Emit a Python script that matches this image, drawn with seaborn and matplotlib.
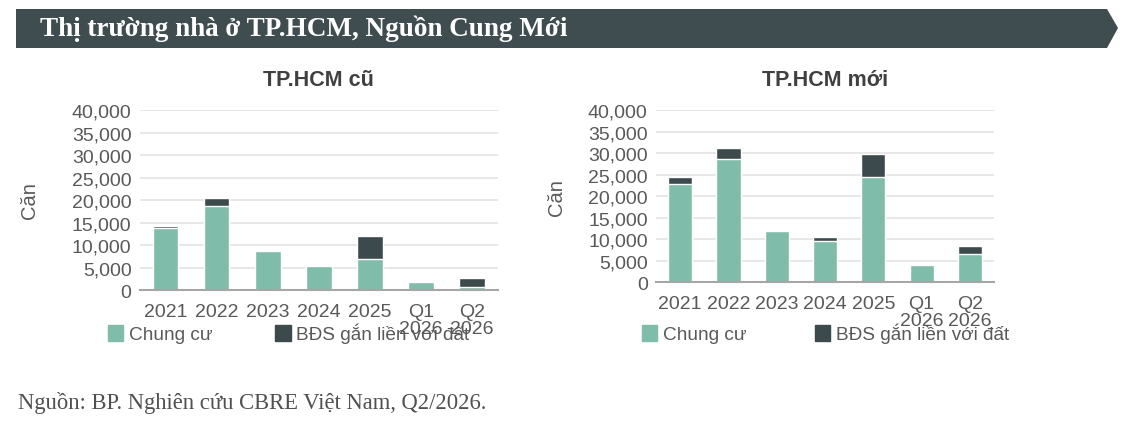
import matplotlib
matplotlib.use("Agg")
import matplotlib.pyplot as plt
from matplotlib.patches import Polygon, Patch
from matplotlib.ticker import FuncFormatter
import seaborn as sns
import pandas as pd

# --- DATA ---
periods = ["2021", "2022", "2023", "2024", "2025", "Q1\n2026", "Q2\n2026"]

old_apartments = [13700, 18700, 8700, 5300, 7000, 1700, 750]
old_landed = [600, 1700, 0, 0, 4900, 0, 1950]

new_apartments = [22700, 28600, 11800, 9600, 24400, 4000, 6600]
new_landed = [1700, 2500, 0, 800, 5500, 0, 1800]

series_names = ["Chung cư", "BĐS gắn liền với đất"]

# --- STYLE ---
GREEN = "#7fbcaa"
DARK = "#3c4a4d"
TEXT = "#595959"
BANNER = "#3f4d50"

sns.set_theme(style="white")
plt.rcParams['font.family'] = ['Liberation Sans', 'DejaVu Sans']


def draw_panel(ax, apartments, landed, title, ylabelpad):
    df = pd.DataFrame({
        "period": periods,
        "apartments": apartments,
        "total": [a + b for a, b in zip(apartments, landed)],
    })
    # dark total bar first, green apartments on top of it
    sns.barplot(data=df, x="period", y="total", color=DARK, width=0.5,
                saturation=1, ax=ax)
    sns.barplot(data=df, x="period", y="apartments", color=GREEN, width=0.5,
                saturation=1, ax=ax)

    ax.set_ylim(0, 40000)
    ax.set_yticks(range(0, 40001, 5000))
    ax.yaxis.set_major_formatter(FuncFormatter(lambda v, p: f"{int(v):,}"))
    ax.grid(axis="y", color="#e3e3e3", linewidth=1.2)
    ax.set_axisbelow(True)
    for side in ["top", "right", "left"]:
        ax.spines[side].set_visible(False)
    ax.spines["bottom"].set_color("#a6a6a6")
    ax.spines["bottom"].set_linewidth(1.5)
    ax.tick_params(axis="both", length=0, labelsize=14, labelcolor=TEXT)
    ax.tick_params(axis="x", pad=9)
    ax.tick_params(axis="y", pad=6)
    for lbl in ax.get_xticklabels():
        lbl.set_linespacing(1.05)
    ax.set_xlabel("")
    ax.set_ylabel("Căn", fontsize=14.5, color=TEXT, labelpad=ylabelpad)
    ax.set_title(title, fontsize=15.5, fontweight="bold", color="#404040", pad=18)


fig = plt.figure(figsize=(11.36, 4.27), dpi=100)

ax1 = fig.add_axes([0.1232, 0.3185, 0.315, 0.4215])
ax2 = fig.add_axes([0.5775, 0.337, 0.2975, 0.4028])

draw_panel(ax1, old_apartments, old_landed, "TP.HCM cũ", 24)
draw_panel(ax2, new_apartments, new_landed, "TP.HCM mới", 16)

handles = [Patch(color=GREEN), Patch(color=DARK)]
for ax, x0, y0, gap in [(ax1, 108 / 1136, 1 - 324 / 427, 3.3),
                        (ax2, 642 / 1136, 1 - 324 / 427, 3.6)]:
    ax.legend(handles, series_names, loc="upper left", bbox_to_anchor=(x0, y0),
              bbox_transform=fig.transFigure, ncol=2, frameon=False,
              fontsize=13.7, labelcolor=TEXT, handlelength=0.8, handleheight=0.9,
              handletextpad=0.3, columnspacing=gap, borderpad=0, borderaxespad=0)

# header banner with arrow tip
W, H = 1136, 427
banner = Polygon([(16 / W, 1 - 10 / H), (1107 / W, 1 - 10 / H), (1118 / W, 1 - 29 / H),
                  (1107 / W, 1 - 49 / H), (16 / W, 1 - 49 / H)],
                 closed=True, transform=fig.transFigure, facecolor=BANNER,
                 edgecolor="none")
fig.patches.append(banner)
fig.text(40 / W, 1 - 29 / H, "Thị trường nhà ở TP.HCM, Nguồn Cung Mới",
         family=["Liberation Serif", "DejaVu Serif"], fontweight="bold",
         fontsize=19.5, color="white", va="center", ha="left")

fig.text(18 / W, 1 - 403 / H, "Nguồn: BP. Nghiên cứu CBRE Việt Nam, Q2/2026.",
         family=["Liberation Serif", "DejaVu Serif"], fontsize=16.3,
         color="#505050", va="center", ha="left")

fig.savefig("out.png", dpi=100, facecolor="white")
